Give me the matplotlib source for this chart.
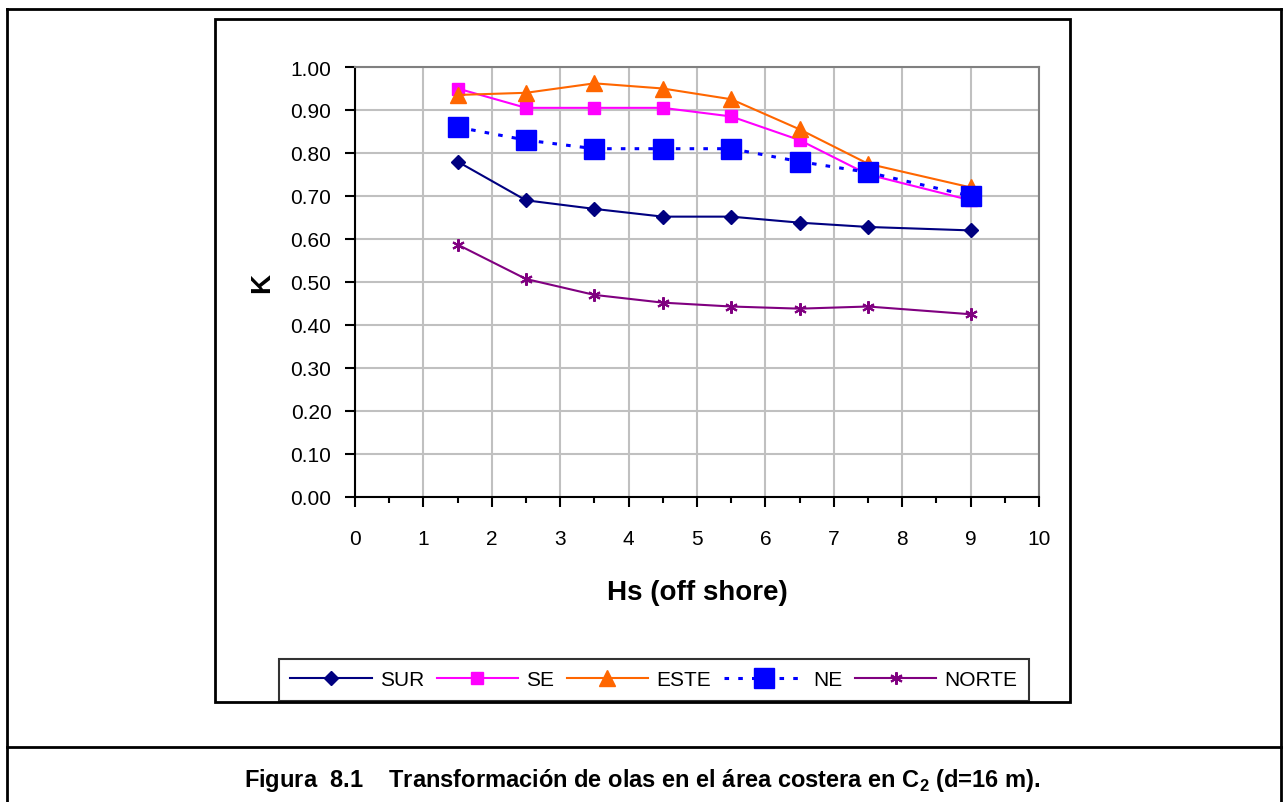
import matplotlib
matplotlib.use("Agg")
import matplotlib.pyplot as plt
from matplotlib.lines import Line2D
from matplotlib.patches import Rectangle
from matplotlib.ticker import MultipleLocator, FormatStrFormatter

plt.rcParams['font.family'] = ['Liberation Sans', 'DejaVu Sans']
plt.rcParams['mathtext.fontset'] = 'custom'
plt.rcParams['mathtext.rm'] = 'Liberation Sans'
plt.rcParams['mathtext.bf'] = 'Liberation Sans:bold'

# --- data -------------------------------------------------------------
hs = [1.5, 2.5, 3.5, 4.5, 5.5, 6.5, 7.5, 9.0]
k_sur = [0.78, 0.69, 0.67, 0.652, 0.652, 0.638, 0.628, 0.62]
k_se = [0.95, 0.905, 0.905, 0.905, 0.885, 0.83, 0.75, 0.69]
k_este = [0.935, 0.94, 0.962, 0.95, 0.925, 0.855, 0.775, 0.72]
k_ne = [0.86, 0.83, 0.81, 0.81, 0.81, 0.78, 0.755, 0.70]
k_norte = [0.587, 0.507, 0.47, 0.452, 0.443, 0.438, 0.443, 0.425]

W, H = 1285, 803
fig = plt.figure(figsize=(W / 100, H / 100), dpi=100)


def fx(px):
    return px / W


def fy(py):
    return 1 - py / H


# frame of the figure page
frame_kw = dict(color='black', linewidth=2.0, transform=fig.transFigure)
fig.add_artist(Line2D([fx(7), fx(7)], [fy(10), 0], **frame_kw))
fig.add_artist(Line2D([fx(1281), fx(1281)], [fy(10), 0], **frame_kw))
fig.add_artist(Line2D([fx(7), fx(1281)], [fy(10), fy(10)], **frame_kw))
fig.add_artist(Line2D([fx(7), fx(1281)], [fy(748), fy(748)], **frame_kw))

# chart box
fig.add_artist(Rectangle((fx(215), fy(703)), fx(1070) - fx(215), fy(20) - fy(703),
                         fill=False, edgecolor='black', linewidth=2.0,
                         transform=fig.transFigure))

ax = fig.add_axes([fx(355), fy(498), fx(1039) - fx(355), fy(68) - fy(498)])

ax.plot(hs, k_sur, color='#000080', lw=1.5, marker='D', ms=7, label='SUR')
ax.plot(hs, k_se, color='#FF00FF', lw=1.5, marker='s', ms=8, label='SE')
ax.plot(hs, k_este, color='#FF6600', lw=1.5, marker='^', ms=11, label='ESTE')
ax.plot(hs, k_ne, color='#0000FF', lw=2.2, ls=(0, (1.5, 3)), marker='s', ms=14,
        label='NE')
ax.plot(hs, k_norte, color='#800080', lw=1.5, marker=(6, 2, 0), ms=9,
        markeredgewidth=1.5, label='NORTE')

ax.set_xlim(0, 10)
ax.set_ylim(0, 1.0)
ax.xaxis.set_major_locator(MultipleLocator(1))
ax.xaxis.set_minor_locator(MultipleLocator(0.5))
ax.yaxis.set_major_locator(MultipleLocator(0.1))
ax.yaxis.set_major_formatter(FormatStrFormatter('%.2f'))

ax.grid(True, which='major', color='#c0c0c0', linewidth=1.5)
ax.set_axisbelow(True)
for s in ['top', 'right']:
    ax.spines[s].set_color('#808080')
    ax.spines[s].set_linewidth(1.5)
for s in ['left', 'bottom']:
    ax.spines[s].set_color('black')
    ax.spines[s].set_linewidth(1.5)

ax.tick_params(axis='both', which='major', direction='out', length=7, width=1.5,
               labelsize=15)
ax.tick_params(axis='x', which='major', pad=16)
ax.tick_params(axis='y', which='major', pad=10)
ax.tick_params(axis='x', which='minor', direction='out', length=4, width=1.5)

fig.text(fx(697), fy(593), 'Hs (off shore)', fontsize=20, fontweight='bold',
         ha='center', va='center')
fig.text(fx(262), fy(283), 'K', fontsize=20, fontweight='bold', rotation=90,
         ha='center', va='center')

leg = fig.legend(loc='center', bbox_to_anchor=(fx(654), fy(681)), ncol=5,
                 fontsize=15, frameon=True, fancybox=False, edgecolor='black',
                 handlelength=3.9, handletextpad=0.4, columnspacing=0.6,
                 borderpad=0.55, borderaxespad=0)
leg.get_frame().set_linewidth(1.5)

fig.text(0.5, fy(781),
         r'Figura  8.1    Transformación de olas en el área costera en C$_\mathbf{2}$ (d=16 m).',
         fontsize=17, fontweight='bold', ha='center', va='center')

fig.savefig('out.png', dpi=100)
